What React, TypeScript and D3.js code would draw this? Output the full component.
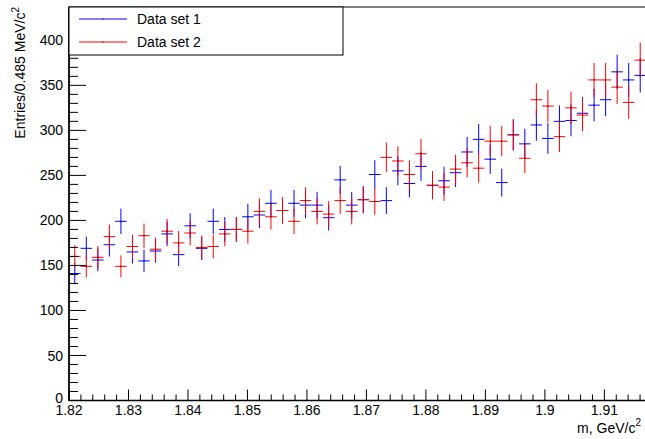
import React from "react";
import * as d3 from "d3";

const xMin = 1.82;
const xMax = 1.917;
const nBins = 50;
const yMax = 437;
const xMajorTicks = [1.82, 1.83, 1.84, 1.85, 1.86, 1.87, 1.88, 1.89, 1.9, 1.91];
const xTickLabels = ["1.82", "1.83", "1.84", "1.85", "1.86", "1.87", "1.88", "1.89", "1.9", "1.91"];
const yMajorTicks = [0, 50, 100, 150, 200, 250, 300, 350, 400];
const set1 = [141, 169, 156, 173, 199, 165, 155, 166, 185, 162, 194, 169, 199, 190, 190, 204, 206, 219, 211, 219, 217, 217, 203, 245, 217, 223, 251, 222, 255, 241, 260, 239, 244, 253, 276, 290, 268, 242, 295, 285, 306, 291, 310, 311, 319, 328, 334, 365, 356, 361];
const set2 = [160, 149, 159, 182, 149, 171, 183, 168, 188, 175, 186, 170, 171, 185, 190, 188, 210, 204, 211, 199, 222, 210, 207, 222, 210, 223, 221, 270, 266, 251, 274, 239, 237, 257, 264, 258, 288, 288, 295, 269, 334, 327, 293, 325, 317, 356, 356, 348, 331, 378];
const seriesNames = ["Data set 1", "Data set 2"];
const seriesColors = ["#0000ff", "#ff0000"];

const W = 645;
const H = 439;
const left = 69;
const right = 646;
const top = 7;
const bottom = 400.5;
const font = "'Liberation Sans', Arial, Helvetica, sans-serif";

export default function App() {
  const x = d3.scaleLinear().domain([xMin, xMax]).range([left, right]);
  const y = d3.scaleLinear().domain([0, yMax]).range([bottom, top]);
  const bw = (xMax - xMin) / nBins;

  const xMinor: number[] = d3.range(0, 49).map((i) => xMin + i * 0.002).filter((v) => v <= xMax);
  const yMinor: number[] = d3.range(0, 44).map((i) => i * 10).filter((v) => v <= yMax);

  const drawSeries = (data: number[], color: string, key: string) => (
    <g key={key}>
      {data.map((v, i) => {
        const x0 = x(xMin + i * bw);
        const x1 = x(xMin + (i + 1) * bw);
        const xc = (x0 + x1) / 2;
        const e = Math.sqrt(v);
        return (
          <g key={i}>
            <line x1={x0} x2={x1} y1={y(v)} y2={y(v)} stroke={color} strokeWidth={1} />
            <line x1={xc} x2={xc} y1={y(v - e)} y2={y(v + e)} stroke={color} strokeWidth={1} />
            <rect x={xc - 0.5} y={y(v) - 0.5} width={1} height={1} fill="#000" />
          </g>
        );
      })}
    </g>
  );

  return (
    <svg width={W} height={H} style={{ position: "fixed", left: 0, top: 0, background: "#fff" }} fontFamily={font}>
      <rect x={0} y={0} width={W} height={H} fill="#fff" />
      <rect x={left} y={top} width={right - left} height={bottom - top} fill="none" stroke="#000" strokeWidth={1} />
      {drawSeries(set1, seriesColors[0], "s1")}
      {drawSeries(set2, seriesColors[1], "s2")}
      <line x1={left} x2={left} y1={top} y2={bottom} stroke="#000" strokeWidth={1.6} />
      {yMinor.map((v) => (
        <line key={"ym" + v} x1={left} x2={left + (v % 50 === 0 ? 17 : 9)} y1={y(v)} y2={y(v)} stroke="#000" strokeWidth={1} />
      ))}
      {yMajorTicks.map((v) => (
        <text key={"yl" + v} x={63} y={y(v) - (v === 0 ? 3 : 0)} dy="0.36em" textAnchor="end" fontSize={14} fill="#000">
          {v}
        </text>
      ))}
      <line x1={left} x2={right} y1={bottom} y2={bottom} stroke="#000" strokeWidth={1.6} />
      {xMinor.map((v, i) => (
        <line key={"xm" + i} x1={x(v)} x2={x(v)} y1={bottom} y2={bottom - (i % 5 === 0 ? 11 : 6)} stroke="#000" strokeWidth={1} />
      ))}
      {xMajorTicks.map((v, i) => (
        <text key={"xl" + i} x={x(v)} y={415} textAnchor="middle" fontSize={14} fill="#000">
          {xTickLabels[i]}
        </text>
      ))}
      <text x={641} y={433} textAnchor="end" fontSize={14} fill="#000">
        m, GeV/c
        <tspan fontSize={10} dy={-7}>2</tspan>
      </text>
      <g transform={`translate(25, 7) rotate(-90)`}>
        <text x={0} y={0} textAnchor="end" fontSize={14} fill="#000">
          Entries/0.485 MeV/c
          <tspan fontSize={10} dy={-6}>2</tspan>
        </text>
      </g>
      <rect x={69} y={7} width={274} height={48} fill="#fff" stroke="#000" strokeWidth={1} />
      {seriesNames.map((name, i) => {
        const ly = 19 + i * 23;
        return (
          <g key={name}>
            <line x1={79} x2={127} y1={ly} y2={ly} stroke={seriesColors[i]} strokeWidth={1} />
            <rect x={102.5} y={ly - 0.5} width={1} height={1} fill="#000" />
            <text x={137} y={ly} dy="0.36em" fontSize={14} fill="#000">
              {name}
            </text>
          </g>
        );
      })}
    </svg>
  );
}
